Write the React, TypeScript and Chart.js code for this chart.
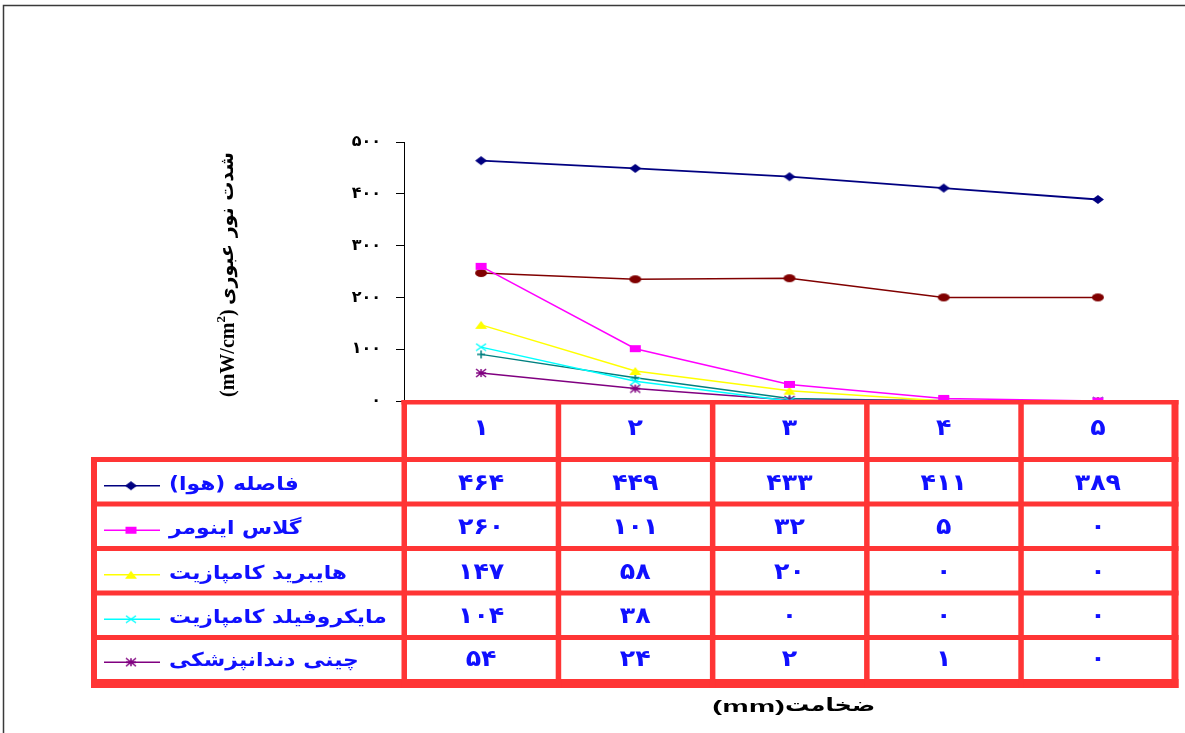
import React, { useEffect, useRef } from "react";
import { Chart, registerables } from "chart.js";

Chart.register(...registerables);

// ---------- data ----------
const categories = ["1", "2", "3", "4", "5"];
const yTickValues = [0, 100, 200, 300, 400, 500];

const seriesNames = [
  "فاصله (هوا)",
  "گلاس اینومر",
  "هایبرید کامپازیت",
  "مایکروفیلد کامپازیت",
  "چینی دندانپزشکی",
];
const airValues = [464, 449, 433, 411, 389];
const glassIonomerValues = [260, 101, 32, 5, 0];
const hybridCompositeValues = [147, 58, 20, 0, 0];
const microfillCompositeValues = [104, 38, 0, 0, 0];
const porcelainValues = [54, 24, 2, 1, 0];
// two extra series drawn in the plot but not listed in the data table
const extraSeriesA = [247, 235, 237, 200, 200];
const extraSeriesB = [90, 45, 5, 0, 0];

const yTitleFa = "شدت نور عبوری";
const yTitleUnit = "(mW/cm";
const xTitleFa = "ضخامت";
const xTitleUnit = "(mm)";

// ---------- helpers ----------
const FA_DIGITS = "۰۱۲۳۴۵۶۷۸۹";
const toFa = (v: number | string) =>
  String(v).replace(/\d/g, (d) => FA_DIGITS[Number(d)]);

type MarkerKind = "diamond" | "square" | "triangle" | "x" | "star" | "circle" | "plus";

function makeMarker(kind: MarkerKind, color: string, w: number, h: number) {
  const c = document.createElement("canvas");
  c.width = w + 2;
  c.height = h + 2;
  const g = c.getContext("2d")!;
  const cx = c.width / 2;
  const cy = c.height / 2;
  const rx = w / 2;
  const ry = h / 2;
  g.fillStyle = color;
  g.strokeStyle = color;
  g.lineWidth = 1.5;
  g.beginPath();
  switch (kind) {
    case "diamond":
      g.moveTo(cx, cy - ry);
      g.lineTo(cx + rx, cy);
      g.lineTo(cx, cy + ry);
      g.lineTo(cx - rx, cy);
      g.closePath();
      g.fill();
      break;
    case "square":
      g.fillRect(cx - rx, cy - ry, w, h);
      break;
    case "circle":
      g.ellipse(cx, cy, rx, ry, 0, 0, Math.PI * 2);
      g.fill();
      break;
    case "triangle":
      g.moveTo(cx, cy - ry);
      g.lineTo(cx + rx, cy + ry);
      g.lineTo(cx - rx, cy + ry);
      g.closePath();
      g.fill();
      break;
    case "x":
      g.moveTo(cx - rx, cy - ry);
      g.lineTo(cx + rx, cy + ry);
      g.moveTo(cx + rx, cy - ry);
      g.lineTo(cx - rx, cy + ry);
      g.stroke();
      break;
    case "plus":
      g.moveTo(cx - rx, cy);
      g.lineTo(cx + rx, cy);
      g.moveTo(cx, cy - ry);
      g.lineTo(cx, cy + ry);
      g.stroke();
      break;
    case "star":
      g.moveTo(cx - rx, cy - ry);
      g.lineTo(cx + rx, cy + ry);
      g.moveTo(cx + rx, cy - ry);
      g.lineTo(cx - rx, cy + ry);
      g.moveTo(cx, cy - ry);
      g.lineTo(cx, cy + ry);
      g.moveTo(cx - rx, cy);
      g.lineTo(cx + rx, cy);
      g.stroke();
      break;
  }
  return c;
}

// draw text stretched horizontally by sx
function drawText(
  ctx: CanvasRenderingContext2D,
  text: string,
  x: number,
  y: number,
  font: string,
  align: CanvasTextAlign,
  dir: CanvasDirection,
  sx = 1
) {
  ctx.save();
  ctx.translate(x, y);
  ctx.scale(sx, 1);
  ctx.font = font;
  ctx.textAlign = align;
  ctx.direction = dir;
  ctx.textBaseline = "middle";
  ctx.fillText(text, 0, 0);
  ctx.restore();
}

const COLORS = {
  navy: "#000080",
  magenta: "#ff00ff",
  yellow: "#ffff00",
  cyan: "#00ffff",
  purple: "#800080",
  darkred: "#800000",
  teal: "#008080",
};

const RED = "#ff3535";
const BLUE = "#1010ff";
const FA_FONT = '"DejaVu Sans", sans-serif';

export default function App() {
  const ref = useRef<HTMLCanvasElement | null>(null);

  useEffect(() => {
    const canvas = ref.current;
    if (!canvas) return;

    const markers = {
      navy: makeMarker("diamond", COLORS.navy, 12, 9),
      magenta: makeMarker("square", COLORS.magenta, 11, 7),
      yellow: makeMarker("triangle", COLORS.yellow, 12, 8),
      cyan: makeMarker("x", COLORS.cyan, 10, 7),
      purple: makeMarker("star", COLORS.purple, 10, 8),
      darkred: makeMarker("circle", COLORS.darkred, 12, 8),
      teal: makeMarker("plus", COLORS.teal, 8, 8),
    };

    const tableRows = [
      { name: seriesNames[0], values: airValues, color: COLORS.navy, marker: markers.navy },
      { name: seriesNames[1], values: glassIonomerValues, color: COLORS.magenta, marker: markers.magenta },
      { name: seriesNames[2], values: hybridCompositeValues, color: COLORS.yellow, marker: markers.yellow },
      { name: seriesNames[3], values: microfillCompositeValues, color: COLORS.cyan, marker: markers.cyan },
      { name: seriesNames[4], values: porcelainValues, color: COLORS.purple, marker: markers.purple },
    ];

    const mk = (label: string, data: number[], color: string, marker: HTMLCanvasElement, bw = 1.5) => ({
      label,
      data,
      borderColor: color,
      backgroundColor: color,
      borderWidth: bw,
      pointStyle: marker,
      pointRadius: 5,
      clip: false as const,
    });

    const NUM_FONT = `bold 23px ${FA_FONT}`;
    const NAME_FONT = `bold 19px ${FA_FONT}`;

    const tablePlugin = {
      id: "dataTable",
      afterDatasetsDraw(chart: any) {
        const { ctx, chartArea, scales } = chart;
        const x = scales.x;
        const colW = (chartArea.right - chartArea.left) / categories.length;
        const bounds = categories.map((_, i) => x.getPixelForValue(i) - colW / 2);
        bounds.push(bounds[bounds.length - 1] + colW);
        const left = 94;
        const right = bounds[bounds.length - 1];
        const headerTop = chartArea.bottom + 1;
        const rowLine0 = 459.5;
        const rowH = 44.5;
        const bottomTop = 679;
        const bottomBot = 688;

        ctx.save();
        // white cells
        ctx.fillStyle = "#ffffff";
        ctx.fillRect(bounds[0], headerTop, right - bounds[0], rowLine0 - headerTop);
        ctx.fillRect(left, rowLine0, right - left, bottomBot - rowLine0);

        // red grid
        ctx.fillStyle = RED;
        ctx.fillRect(bounds[0] - 2.5, headerTop - 2, right - bounds[0] + 6, 4.5);
        for (let r = 0; r < tableRows.length; r++) {
          const y = rowLine0 + r * rowH;
          ctx.fillRect(left - 3, y - 2.5, right + 3.5 - (left - 3), 5);
        }
        ctx.fillRect(left - 3, bottomTop, right + 3.5 - (left - 3), bottomBot - bottomTop);
        for (let i = 0; i < bounds.length - 1; i++) {
          ctx.fillRect(bounds[i] - 2.5, headerTop - 2, 5.5, bottomBot - headerTop + 2);
        }
        ctx.fillRect(right - 3.5, headerTop - 2, 7, bottomBot - headerTop + 2);
        ctx.fillRect(left - 3, rowLine0 - 2.5, 6, bottomBot - rowLine0 + 2.5);

        // header digits
        ctx.fillStyle = BLUE;
        categories.forEach((c, i) => {
          drawText(ctx, toFa(c), x.getPixelForValue(i), 429, NUM_FONT, "center", "ltr", 1.1);
        });

        // rows
        tableRows.forEach((row, r) => {
          const top = rowLine0 + r * rowH;
          const bot = r === tableRows.length - 1 ? bottomTop : top + rowH;
          const cy = (top + bot) / 2 + 2;
          ctx.fillStyle = BLUE;
          row.values.forEach((v, i) => {
            drawText(ctx, toFa(v), x.getPixelForValue(i), cy, NUM_FONT, "center", "ltr", 1.1);
          });
          // legend key
          ctx.strokeStyle = row.color;
          ctx.lineWidth = 1.5;
          ctx.beginPath();
          ctx.moveTo(104, cy + 2);
          ctx.lineTo(160, cy + 2);
          ctx.stroke();
          ctx.drawImage(row.marker, 131 - row.marker.width / 2, cy + 2 - row.marker.height / 2);
          // name
          ctx.fillStyle = BLUE;
          drawText(ctx, row.name, 169, cy + 1, NAME_FONT, "left", "rtl", 1.15);
        });
        ctx.restore();
      },
      afterDraw(chart: any) {
        const { ctx } = chart;
        ctx.save();
        // outer frame
        ctx.strokeStyle = "#3a3a3a";
        ctx.lineWidth = 1.5;
        ctx.beginPath();
        ctx.moveTo(3.5, 733);
        ctx.lineTo(3.5, 5.5);
        ctx.lineTo(1185, 5.5);
        ctx.stroke();

        // y axis title (rotated)
        ctx.fillStyle = "#000";
        ctx.translate(228, 0);
        ctx.rotate(-Math.PI / 2);
        ctx.textBaseline = "middle";
        ctx.direction = "ltr";
        ctx.textAlign = "left";
        ctx.font = 'bold 20px "Liberation Serif", serif';
        let u = -397;
        ctx.fillText(yTitleUnit, u, 1);
        u += ctx.measureText(yTitleUnit).width;
        ctx.font = 'bold 13px "Liberation Serif", serif';
        ctx.fillText("2", u, -6);
        u += ctx.measureText("2").width;
        ctx.font = 'bold 20px "Liberation Serif", serif';
        ctx.fillText(")", u, 1);
        ctx.direction = "rtl";
        ctx.textAlign = "right";
        ctx.font = `bold 19px ${FA_FONT}`;
        ctx.fillText(yTitleFa, -152, 0);
        ctx.setTransform(1, 0, 0, 1, 0, 0);

        // x axis title
        ctx.fillStyle = "#000";
        drawText(ctx, xTitleUnit, 785, 707, 'bold 17px "Liberation Sans", sans-serif', "right", "ltr", 1.75);
        drawText(ctx, xTitleFa, 785, 706, `bold 18px ${FA_FONT}`, "left", "rtl", 1.34);
        ctx.restore();
      },
    };

    const chart = new Chart(canvas, {
      type: "line",
      data: {
        labels: categories,
        datasets: [
          mk(seriesNames[0], airValues, COLORS.navy, markers.navy, 1.8),
          mk(seriesNames[1], glassIonomerValues, COLORS.magenta, markers.magenta),
          mk(seriesNames[2], hybridCompositeValues, COLORS.yellow, markers.yellow),
          mk(seriesNames[3], microfillCompositeValues, COLORS.cyan, markers.cyan),
          mk(seriesNames[4], porcelainValues, COLORS.purple, markers.purple),
          mk("سری ۶", extraSeriesA, COLORS.darkred, markers.darkred),
          mk("سری ۷", extraSeriesB, COLORS.teal, markers.teal),
        ],
      },
      options: {
        responsive: false,
        animation: false,
        devicePixelRatio: 1,
        layout: { padding: { top: 142, bottom: 332, left: 0, right: 10 } },
        plugins: {
          legend: { display: false },
          title: { display: false },
          tooltip: { enabled: false },
        },
        elements: { line: { tension: 0 } },
        scales: {
          x: {
            type: "category",
            display: false,
            offset: true,
          },
          y: {
            min: 0,
            max: 500,
            afterFit: (s: any) => {
              s.width = 404;
            },
            afterBuildTicks: (s: any) => {
              s.ticks = yTickValues.map((v) => ({ value: v }));
            },
            ticks: {
              padding: 15,
              color: "#000",
              font: { family: "DejaVu Sans", size: 16, weight: "bold" },
              callback: (v: any) => toFa(v),
            },
            grid: {
              drawOnChartArea: false,
              drawTicks: true,
              tickLength: 8,
              color: "#000",
              lineWidth: 1,
            },
            border: { display: true, color: "#000", width: 1 },
          },
        },
      },
      plugins: [tablePlugin],
    } as any);

    return () => chart.destroy();
  }, []);

  return (
    <div style={{ position: "absolute", left: 0, top: 0, width: 1185, height: 733, background: "#fff" }}>
      <canvas ref={ref} width={1185} height={733} style={{ display: "block" }} />
    </div>
  );
}
